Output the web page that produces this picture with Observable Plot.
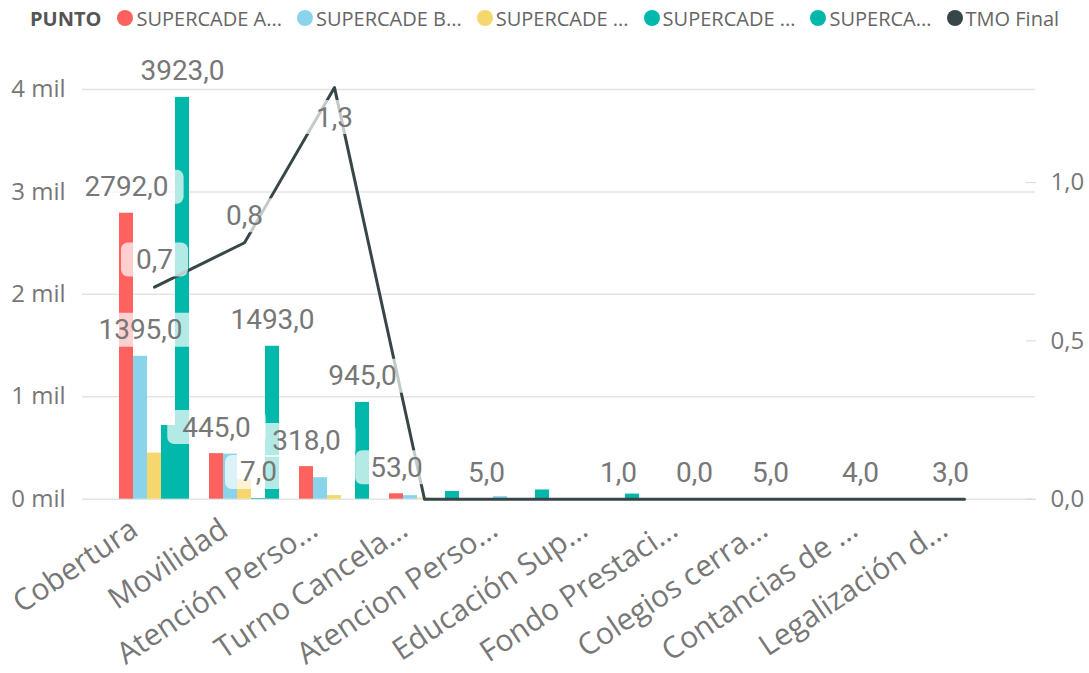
<!DOCTYPE html>
<html>
<head>
<meta charset="utf-8">
<script src="https://cdn.jsdelivr.net/npm/d3@7"></script>
<script src="https://cdn.jsdelivr.net/npm/@observablehq/plot@0.6"></script>
<style>
  body { margin: 0; background: #fff; font-family: "Open Sans", sans-serif; }
  #legend { display: flex; align-items: center; height: 36px; padding-left: 30px; font-size: 20px; color: #666; white-space: nowrap; }
  #legend .title { font-weight: 700; color: #555; margin-right: 16px; }
  #legend .item { display: flex; align-items: center; margin-right: 15px; }
  #legend .dot { width: 16px; height: 16px; border-radius: 50%; margin-right: 3px; }
  #chart svg { display: block; }
</style>
</head>
<body>
<div id="legend"></div>
<div id="chart"></div>
<script>
// Trámites por punto de atención (conteos) y TMO final (eje secundario)
const categories = [
  "Cobertura", "Movilidad", "Atención Perso...", "Turno Cancela...", "Atencion Perso...",
  "Educación Sup...", "Fondo Prestaci...", "Colegios cerra...", "Contancias de ...", "Legalización d..."
];
const seriesLabels = ["SUPERCADE A...", "SUPERCADE B...", "SUPERCADE ...", "SUPERCADE ...", "SUPERCA..."];
const seriesColors = ["#FD625E", "#8AD4EB", "#F5D76E", "#01B8AA", "#01B8AA"];
const tmoLabel = "TMO Final";
const tmoColor = "#374649";

const supercadeA = [2792, 445, 318, 53, 5, 0, 0, 0, 0, 0];
const supercadeB = [1395, 440, 210, 35, 25, 0, 0, 5, 4, 3];
const supercadeC = [450, 190, 35, 10, 0, 0, 0, 0, 0, 0];
const supercadeD = [720, 7, 0, 0, 0, 1, 0, 0, 0, 0];
const supercadeE = [3923, 1493, 945, 75, 90, 50, 5, 0, 0, 0];
const tmoFinal = [0.67, 0.81, 1.3, 0, 0, 0, 0, 0, 0, 0];

// Bars that carry a data label: [category index, series index]
const labeledBars = [
  [0, 0], [0, 1], [0, 4],
  [1, 0], [1, 3], [1, 4],
  [2, 0], [2, 4],
  [3, 0], [4, 0], [5, 3], [6, 2], [7, 1], [8, 1], [9, 1]
];

const leftTicks = [0, 1000, 2000, 3000, 4000];
const rightTicks = [0, 0.5, 1.0];
const leftMax = 4000;
const rightMax = 1.294; // secondary axis top, aligned with 4 mil

const allSeries = [supercadeA, supercadeB, supercadeC, supercadeD, supercadeE];
const toLeft = v => v * leftMax / rightMax;
const fmt = v => v.toFixed(1).replace(".", ",");

// legend
const legend = document.getElementById("legend");
legend.innerHTML = `<span class="title">PUNTO</span>` +
  seriesLabels.map((s, i) => `<span class="item"><span class="dot" style="background:${seriesColors[i]}"></span>${s}</span>`).join("") +
  `<span class="item"><span class="dot" style="background:${tmoColor}"></span>${tmoLabel}</span>`;

const barWidth = 14;
const labelFont = {fontSize: 28, fill: "#777", fontFamily: "Roboto"};

const bars = allSeries.map((vals, s) => {
  const rows = categories.map((c, i) => ({cat: c, value: vals[i]}));
  return Plot.barY(rows, {
    x: "cat", y: "value", fill: seriesColors[s],
    insetLeft: 38, insetRight: 38, dx: (s - 2) * barWidth
  });
});

const barLabels = allSeries.map((vals, s) => {
  const rows = labeledBars.filter(([, si]) => si === s).map(([ci]) => ({cat: categories[ci], value: vals[ci]}));
  return Plot.text(rows, {
    x: "cat", y: "value", text: d => fmt(d.value),
    dx: (s - 2) * barWidth, dy: -26, ...labelFont
  });
});

const tmoRows = categories.map((c, i) => ({cat: c, value: tmoFinal[i]}));
// points near the top of the plot get their label underneath
const nearTop = d => toLeft(d.value) > leftMax * 0.9;

const plot = Plot.plot({
  width: 1089,
  height: 637,
  marginTop: 53,
  marginBottom: 174.3,
  marginLeft: 82,
  marginRight: 54,
  style: {fontFamily: "Open Sans", color: "#777", background: "#fff"},
  x: {domain: categories, paddingInner: 0, paddingOuter: 0.294, label: null},
  y: {domain: [0, leftMax], label: null},
  marks: [
    Plot.gridY(leftTicks, {stroke: "#e4e4e4", strokeOpacity: 1, strokeWidth: 1.5}),
    Plot.axisY(leftTicks, {anchor: "left", tickSize: 0, tickPadding: 17, fontSize: 24, fill: "#777",
      tickFormat: d => `${d / 1000} mil`, label: null}),
    Plot.axisY(rightTicks.map(toLeft), {anchor: "right", tickSize: 10, tickPadding: 15, dx: -10,
      fontSize: 24, fill: "#777", stroke: "#d8d8d8",
      tickFormat: d => fmt(d * rightMax / leftMax), label: null}),
    Plot.axisX({tickRotate: -34, tickSize: 0, tickPadding: 8, dx: -20, dy: 19, fontSize: 30, fill: "#777", label: null}),
    ...bars,
    Plot.line(tmoRows, {x: "cat", y: d => toLeft(d.value), stroke: tmoColor, strokeWidth: 3}),
    ...barLabels,
    Plot.text(tmoRows.filter(d => d.value > 0 && !nearTop(d)), {
      x: "cat", y: d => toLeft(d.value), text: d => fmt(d.value), dy: -27, ...labelFont
    }),
    Plot.text(tmoRows.filter(d => d.value > 0 && nearTop(d)), {
      x: "cat", y: d => toLeft(d.value), text: d => fmt(d.value), dy: 30, ...labelFont
    })
  ]
});

document.getElementById("chart").append(plot);

// translucent rounded boxes behind every data label
{
  const svgRect = plot.getBoundingClientRect();
  const groups = plot.querySelectorAll('g[aria-label="text"]');
  if (groups.length) {
    const boxes = document.createElementNS("http://www.w3.org/2000/svg", "g");
    groups.forEach(g => g.querySelectorAll("text").forEach(t => {
      const r = t.getBoundingClientRect();
      const padX = 15, h = 34;
      const rect = document.createElementNS("http://www.w3.org/2000/svg", "rect");
      const cy = (r.top + r.bottom) / 2 - svgRect.top;
      rect.setAttribute("x", r.left - svgRect.left - padX);
      rect.setAttribute("y", cy - h / 2);
      rect.setAttribute("width", r.width + 2 * padX);
      rect.setAttribute("height", h);
      rect.setAttribute("rx", 7);
      rect.setAttribute("fill", "#fff");
      rect.setAttribute("fill-opacity", 0.7);
      boxes.append(rect);
    }));
    groups[0].parentNode.insertBefore(boxes, groups[0]);
  }
}
</script>
</body>
</html>
